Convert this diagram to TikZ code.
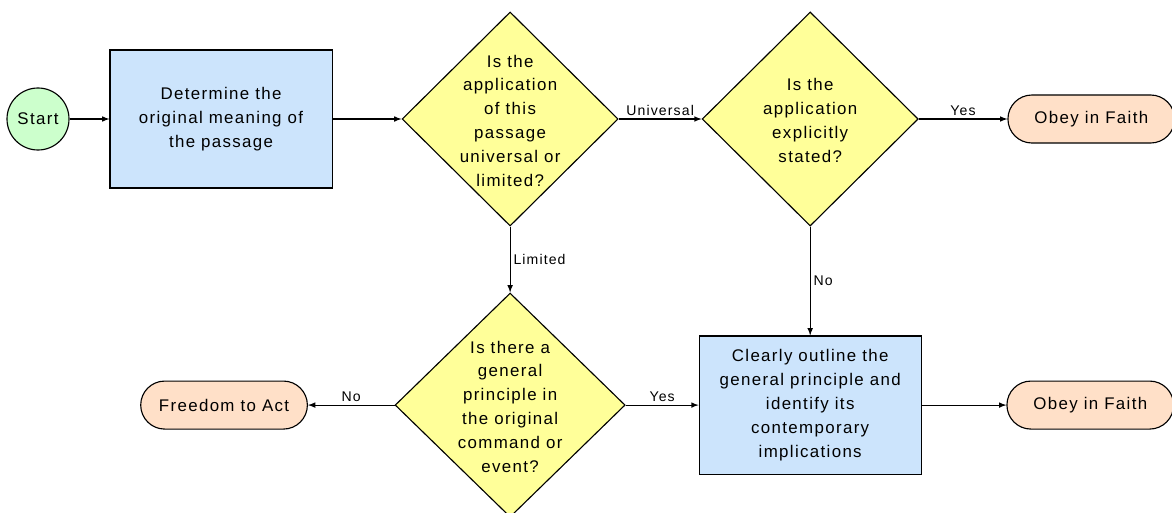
\documentclass[tikz,border=0pt]{standalone}
\usepackage{fontspec}
\setmainfont{Liberation Sans}[LetterSpace=8]
\usetikzlibrary{shapes.geometric,shapes.misc}
\definecolor{startgreen}{RGB}{204,255,204}
\definecolor{processblue}{RGB}{204,228,252}
\definecolor{decisionyellow}{RGB}{255,255,153}
\definecolor{terminalpeach}{RGB}{255,224,200}
\newcommand{\diatext}[1]{\smash{\makebox[0pt]{\raisebox{-0.18cm}{\begin{tabular}{@{}c@{}}#1\end{tabular}}}}}
\tikzstyle{startnode}=[draw,%
                       circle,%
                       fill=startgreen,%
                       inner sep=0pt,%
                       minimum size=1.55cm]
\tikzstyle{process}=[draw,rectangle,fill=processblue,align=center,minimum width=5.55cm,minimum height=3.45cm]
\tikzstyle{decision}=[draw,diamond,fill=decisionyellow,inner sep=0pt,minimum width=5.4cm,minimum height=5.35cm]
\tikzstyle{terminal}=[draw,rounded rectangle,fill=terminalpeach,minimum width=4.4cm,minimum height=1.2cm]
\tikzstyle{branch}=[font=\fontsize{10}{12}\selectfont,inner sep=2pt]

\begin{document}
\begin{tikzpicture}[x=0.025cm,y=-0.025cm,>=latex,line width=0.8pt,
                    font=\fontsize{12}{17}\selectfont]
            \useasboundingbox (0,0) rectangle (1172,513);
            \node[startnode] at (38,119) (start) {Start};
            \node[process][right of=start,node distance=4.575cm] (meaning) {Determine the\\original meaning of\\the passage};
            \node[decision][right of=meaning,node distance=7.225cm] (scope) {\diatext{Is the\\application\\of this\\passage\\universal or\\limited?}};
            \node[decision][right of=scope,node distance=7.5cm] (explicit) {\diatext{Is the\\application\\explicitly\\stated?}};
            \node[terminal][right of=explicit,node distance=7.025cm] (obeya) {Obey in Faith};
            \node[decision][below of=scope,node distance=7.15cm,minimum width=5.75cm,minimum height=5.6cm] (principle) {\diatext{Is there a\\general\\principle in\\the original\\command or\\event?}};
            \node[terminal][left of=principle,node distance=7.15cm] (freedom) {Freedom to Act};
            \node[process][below of=explicit,node distance=7.15cm] (outline) {Clearly outline the\\general principle and\\identify its\\contemporary\\implications};
            \node[terminal][right of=outline,node distance=7.0cm] (obeyb) {Obey in Faith};
            \draw [->] (start.east) -- (meaning.west);
            \draw [->] (meaning.east) -- (scope.west);
            \draw [->] (scope.east) -- node[branch,above] {Universal} (explicit.west);
            \draw [->] (explicit.east) -- node[branch,above] {Yes} (obeya.west);
            \draw [->] (scope.south) -- node[branch,right] {Limited} (principle.north);
            \draw [->] (explicit.south) -- node[branch,right] {No} (outline.north);
            \draw [->] (principle.west) -- node[branch,above] {No} (freedom.east);
            \draw [->] (principle.east) -- node[branch,above] {Yes} (outline.west);
            \draw [->] (outline.east) -- (obeyb.west);
  \end{tikzpicture}
\end{document}
